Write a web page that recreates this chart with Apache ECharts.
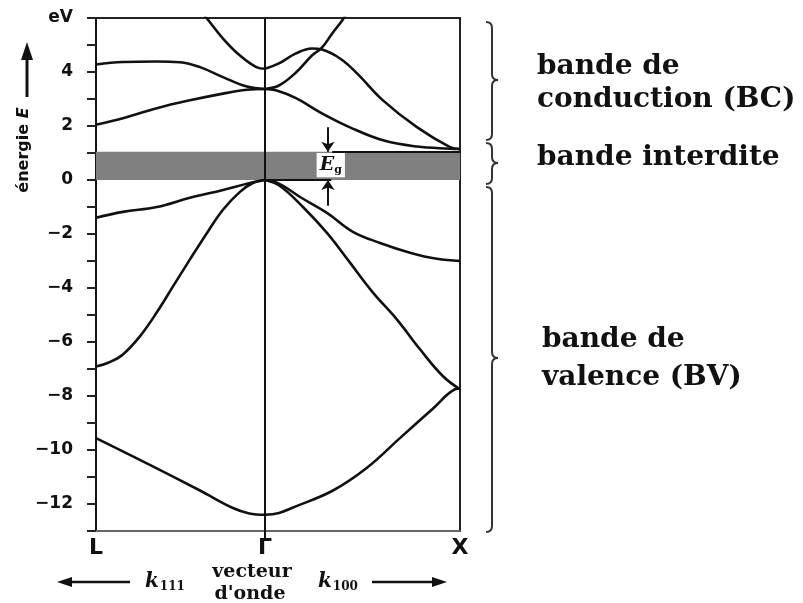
<!DOCTYPE html>
<html>
<head>
<meta charset="utf-8">
<script src="https://cdn.jsdelivr.net/npm/echarts@6/dist/echarts.min.js"></script>
<style>
html, body { margin: 0; padding: 0; background: #fff; }
#main { width: 803px; height: 603px; }
</style>
</head>
<body>
<div id="main"></div>
<script>
// vecteur d'onde k (unités 2π/a) : L = -0.866, Γ = 0, X = 1
var kTicks = [-0.866, 0, 1];
var kNames = ['L', 'Γ', 'X'];

// énergie (eV)
var eMin = -13;
var eMax = 6;
var gapTop = 1.05;   // largeur de la bande interdite
var egK = 0.323;     // position des flèches Eg

// bandes de conduction, côté L
var cbUpperL = [[-0.866, 4.28], [-0.728, 4.37], [-0.554, 4.39], [-0.436, 4.36], [-0.333, 4.18], [-0.215, 3.81], [-0.092, 3.46], [0, 3.37]];
var cbLowerL = [[-0.866, 2.05], [-0.728, 2.29], [-0.554, 2.66], [-0.385, 2.95], [-0.215, 3.2], [-0.092, 3.34], [0, 3.37]];
var cbTopL = [[-0.32, 6.2], [-0.297, 5.98], [-0.215, 5.24], [-0.128, 4.61], [-0.041, 4.17], [0, 4.12]];
// bandes de conduction, côté X
var cbTopX = [[0, 4.12], [0.072, 4.32], [0.159, 4.69], [0.241, 4.87], [0.292, 4.83], [0.385, 4.5], [0.472, 3.95], [0.605, 2.95], [0.779, 1.96], [0.949, 1.22], [1, 1.15]];
var cbRiseX = [[0, 3.37], [0.072, 3.5], [0.159, 3.98], [0.241, 4.61], [0.292, 4.9], [0.344, 5.42], [0.395, 5.9], [0.42, 6.2]];
var cbFallX = [[0, 3.37], [0.056, 3.32], [0.159, 3.03], [0.292, 2.47], [0.436, 1.95], [0.605, 1.47], [0.779, 1.24], [0.949, 1.16], [1, 1.15]];

// bandes de valence, côté L
var vbLightL = [[-0.866, -1.4], [-0.728, -1.18], [-0.554, -1.0], [-0.385, -0.66], [-0.215, -0.37], [-0.077, -0.11], [0, 0]];
var vbDeepL = [[-0.866, -6.91], [-0.8, -6.76], [-0.728, -6.46], [-0.641, -5.79], [-0.554, -4.9], [-0.472, -3.95], [-0.385, -2.95], [-0.297, -1.96], [-0.215, -1.1], [-0.128, -0.44], [-0.062, -0.11], [0, 0]];
var vbLowL = [[-0.866, -9.56], [-0.59, -10.55], [-0.333, -11.5], [-0.164, -12.15], [-0.08, -12.35], [0, -12.4]];
// bandes de valence, côté X
var vbLightX = [[0, 0], [0.077, -0.15], [0.18, -0.63], [0.318, -1.22], [0.451, -1.92], [0.59, -2.33], [0.744, -2.69], [0.882, -2.92], [1, -3.0]];
var vbDeepX = [[0, 0], [0.077, -0.22], [0.195, -1.0], [0.318, -1.96], [0.436, -3.06], [0.554, -4.17], [0.677, -5.17], [0.795, -6.27], [0.913, -7.27], [1, -7.75]];
var vbLowX = [[0, -12.4], [0.072, -12.33], [0.144, -12.13], [0.349, -11.5], [0.523, -10.66], [0.692, -9.56], [0.862, -8.46], [0.974, -7.75], [1, -7.72]];

var bandList = [cbUpperL, cbLowerL, cbTopL, cbTopX, cbRiseX, cbFallX,
	vbLightL, vbDeepL, vbLowL, vbLightX, vbDeepX, vbLowX];

var chart = echarts.init(document.getElementById('main'));

function bandSeries(data) {
	return {
		type : 'line',
		data : data,
		showSymbol : false,
		smooth : 0.4,
		clip : true,
		z : 5,
		lineStyle : {
			color : '#111',
			width : 2.6
		}
	};
}

// accolade verticale : extrémités recourbées vers la gauche, pointe vers la droite
function brace(x, y1, y2, ym, w) {
	var st = { stroke : '#333', lineWidth : 2, fill : null };
	return {
		type : 'group',
		children : [
			{ type : 'bezierCurve', shape : { x1 : x - w, y1 : y1, cpx1 : x, cpy1 : y1, x2 : x, y2 : y1 + w }, style : st },
			{ type : 'line', shape : { x1 : x, y1 : y1 + w, x2 : x, y2 : ym - w }, style : st },
			{ type : 'bezierCurve', shape : { x1 : x, y1 : ym - w, cpx1 : x, cpy1 : ym, x2 : x + w, y2 : ym }, style : st },
			{ type : 'bezierCurve', shape : { x1 : x + w, y1 : ym, cpx1 : x, cpy1 : ym, x2 : x, y2 : ym + w }, style : st },
			{ type : 'line', shape : { x1 : x, y1 : ym + w, x2 : x, y2 : y2 - w }, style : st },
			{ type : 'bezierCurve', shape : { x1 : x, y1 : y2 - w, cpx1 : x, cpy1 : y2, x2 : x - w, y2 : y2 }, style : st }
		]
	};
}

var series = [];
for (var i in bandList) {
	series.push(bandSeries(bandList[i]));
}

// bande interdite + annotations Eg
series.push({
	type : 'line',
	data : [],
	z : 2,
	markArea : {
		silent : true,
		itemStyle : { color : '#808080' },
		data : [ [ { coord : [kTicks[0], 0] }, { coord : [kTicks[2], gapTop] } ] ]
	},
	markLine : {
		silent : true,
		symbol : ['none', 'none'],
		label : { show : false },
		lineStyle : { color : '#111', width : 2, type : 'solid' },
		data : [
			{ xAxis : 0 },
			[ { coord : [0.345, gapTop] }, { coord : [kTicks[2], gapTop] } ],
			[ { coord : [0, 0] }, { coord : [0.34, 0] } ],
			[ { coord : [egK, 1.95], symbol : 'none' }, { coord : [egK, gapTop], symbol : 'arrow', symbolSize : 10 } ],
			[ { coord : [egK, -0.95], symbol : 'none' }, { coord : [egK, 0], symbol : 'arrow', symbolSize : 10 } ]
		]
	}
});
series.push({
	type : 'line',
	data : [],
	z : 3,
	markArea : {
		silent : true,
		itemStyle : { color : '#fff' },
		label : {
			show : true,
			position : 'inside',
			formatter : '{e|E}{g|g}',
			rich : {
				e : { fontFamily : 'DejaVu Serif', fontStyle : 'italic', fontWeight : 'bold', fontSize : 19, color : '#111' },
				g : { fontFamily : 'DejaVu Serif', fontWeight : 'bold', fontSize : 11, color : '#111', padding : [9, 0, 0, 0] }
			}
		},
		data : [ [ { coord : [0.265, 0.1] }, { coord : [0.41, 1.0] } ] ]
	}
});

var serif = 'bold 28px "DejaVu Serif"';
var option = {
	animation : false,
	backgroundColor : '#fff',
	grid : {
		left : 96,
		right : 343,
		top : 18,
		bottom : 72,
		show : true,
		borderColor : '#222',
		borderWidth : 2
	},
	xAxis : {
		type : 'value',
		min : kTicks[0],
		max : kTicks[2],
		axisLine : { show : true, onZero : false, lineStyle : { color : '#666', width : 2 } },
		axisTick : { show : true, customValues : [0], length : 9, lineStyle : { color : '#111', width : 2 } },
		axisLabel : {
			customValues : kTicks,
			showMinLabel : true,
			showMaxLabel : true,
			margin : 6,
			fontFamily : 'DejaVu Sans',
			fontWeight : 'bold',
			fontSize : 22,
			color : '#111',
			formatter : function(v) {
				for (var j = 0; j < kTicks.length; j++) {
					if (Math.abs(kTicks[j] - v) < 1e-6) {
						return kNames[j];
					}
				}
				return '';
			}
		},
		splitLine : { show : false }
	},
	yAxis : {
		type : 'value',
		min : eMin,
		max : eMax,
		interval : 1,
		axisLine : { show : true, onZero : false, lineStyle : { color : '#111', width : 2 } },
		axisTick : { show : true, length : 9, lineStyle : { color : '#222', width : 2 } },
		axisLabel : {
			margin : 23,
			fontFamily : 'DejaVu Sans',
			fontWeight : 'bold',
			fontSize : 17,
			color : '#111',
			showMinLabel : true,
			showMaxLabel : true,
			formatter : function(v) {
				if (v == eMax) {
					return 'eV';
				}
				if (v % 2 != 0) {
					return '';
				}
				return v < 0 ? '\u2212' + (-v) : '' + v;
			}
		},
		splitLine : { show : false }
	},
	graphic : [
		// titre de l'axe vertical
		{
			type : 'text',
			x : 24,
			y : 150,
			rotation : Math.PI / 2,
			style : {
				text : 'énergie {i|E}',
				font : 'bold 16px "DejaVu Sans"',
				fill : '#111',
				align : 'center',
				verticalAlign : 'middle',
				rich : { i : { fontStyle : 'italic', fontWeight : 'bold', fontSize : 16, fontFamily : 'DejaVu Sans' } }
			}
		},
		{ type : 'line', shape : { x1 : 27, y1 : 97, x2 : 27, y2 : 56 }, style : { stroke : '#111', lineWidth : 3 } },
		{ type : 'polygon', shape : { points : [[21, 60], [33, 60], [27, 42]] }, style : { fill : '#111' } },
		// légende bas
		{ type : 'text', x : 252, y : 572, style : { text : 'vecteur', font : 'bold 19px "DejaVu Serif"', fill : '#111', align : 'center', verticalAlign : 'middle' } },
		{ type : 'text', x : 250, y : 594, style : { text : "d'onde", font : 'bold 19px "DejaVu Serif"', fill : '#111', align : 'center', verticalAlign : 'middle' } },
		{ type : 'text', x : 145, y : 582, style : { text : '{k|k}{s|111}', fill : '#111', align : 'left', verticalAlign : 'middle',
			rich : { k : { fontFamily : 'DejaVu Serif', fontStyle : 'italic', fontWeight : 'bold', fontSize : 20 },
				s : { fontFamily : 'DejaVu Serif', fontWeight : 'bold', fontSize : 12, padding : [9, 0, 0, 1] } } } },
		{ type : 'text', x : 318, y : 582, style : { text : '{k|k}{s|100}', fill : '#111', align : 'left', verticalAlign : 'middle',
			rich : { k : { fontFamily : 'DejaVu Serif', fontStyle : 'italic', fontWeight : 'bold', fontSize : 20 },
				s : { fontFamily : 'DejaVu Serif', fontWeight : 'bold', fontSize : 12, padding : [9, 0, 0, 1] } } } },
		{ type : 'line', shape : { x1 : 130, y1 : 582, x2 : 68, y2 : 582 }, style : { stroke : '#111', lineWidth : 2.5 } },
		{ type : 'polygon', shape : { points : [[72, 577], [72, 587], [57, 582]] }, style : { fill : '#111' } },
		{ type : 'line', shape : { x1 : 372, y1 : 582, x2 : 436, y2 : 582 }, style : { stroke : '#111', lineWidth : 2.5 } },
		{ type : 'polygon', shape : { points : [[432, 577], [432, 587], [447, 582]] }, style : { fill : '#111' } },
		// accolades
		brace(492, 22, 140, 80, 6),
		brace(492, 143, 184, 163, 6),
		brace(492, 187, 532, 358, 6),
		// textes des bandes
		{ type : 'text', x : 537, y : 67, style : { text : 'bande de', font : serif, fill : '#111', verticalAlign : 'middle' } },
		{ type : 'text', x : 537, y : 100, style : { text : 'conduction (BC)', font : serif, fill : '#111', verticalAlign : 'middle' } },
		{ type : 'text', x : 537, y : 158, style : { text : 'bande interdite', font : serif, fill : '#111', verticalAlign : 'middle' } },
		{ type : 'text', x : 542, y : 340, style : { text : 'bande de', font : serif, fill : '#111', verticalAlign : 'middle' } },
		{ type : 'text', x : 542, y : 378, style : { text : 'valence (BV)', font : serif, fill : '#111', verticalAlign : 'middle' } }
	],
	series : series
};
chart.setOption(option);
</script>
</body>
</html>
